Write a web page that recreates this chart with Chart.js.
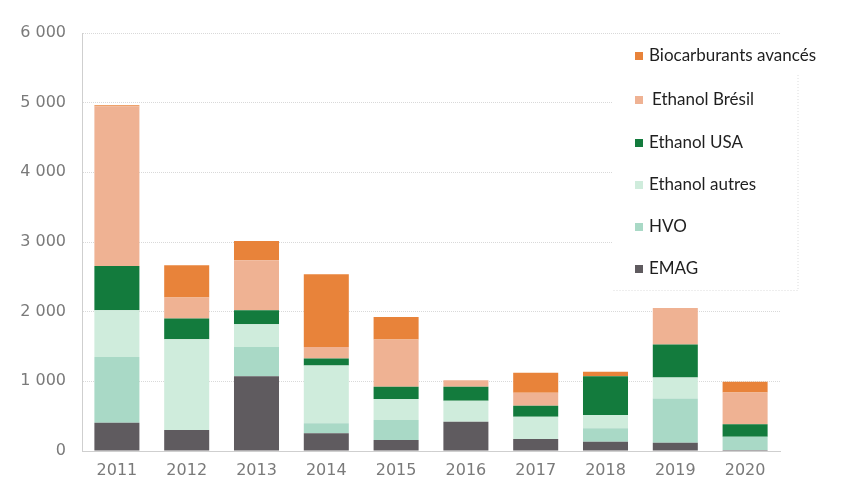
<!DOCTYPE html>
<html>
<head>
<meta charset="utf-8">
<script src="https://cdn.jsdelivr.net/npm/chart.js@4.4.0/dist/chart.umd.min.js"></script>
<style>
  html, body { margin: 0; padding: 0; background: #fff; }
  #chart-container { width: 842px; height: 488px; position: relative; }
</style>
</head>
<body>
<div id="chart-container"><canvas id="chart"></canvas></div>
<script>
const years = ['2011', '2012', '2013', '2014', '2015', '2016', '2017', '2018', '2019', '2020'];
const emag = [405, 300, 1074, 254, 158, 420, 172, 134, 119, 15];
const hvo = [946, 0, 420, 143, 286, 0, 0, 191, 636, 190];
const ethanolAutres = [669, 1305, 325, 831, 301, 301, 320, 191, 301, 0];
const ethanolUSA = [635, 296, 201, 100, 176, 200, 158, 558, 473, 178];
const ethanolBresil = [2292, 301, 717, 166, 679, 96, 186, 0, 525, 458];
const biocarbAvances = [15, 463, 276, 1042, 324, 0, 286, 62, 0, 152];
const yTickLabels = ['0', '1 000', '2 000', '3 000', '4 000', '5 000', '6 000'];

// legend drawn inside the plot, on a white box (top to bottom = reverse stack order)
const boxLegend = {
    id: 'boxLegend',
    afterDatasetsDraw(c) {
        const ctx = c.ctx;
        ctx.save();
        ctx.fillStyle = '#fff';
        ctx.fillRect(612, 40, 186, 250);
        ctx.strokeStyle = '#dcdcdc';
        ctx.setLineDash([1, 2]);
        ctx.beginPath();
        ctx.moveTo(798, 75); ctx.lineTo(798, 290.5); ctx.lineTo(612, 290.5);
        ctx.stroke();
        ctx.setLineDash([]);
        const ds = c.data.datasets.slice().reverse();
        const ys = [56, 100, 143, 185, 227, 269];
        ctx.font = '17px Lato';
        ctx.textBaseline = 'middle';
        ds.forEach((d, i) => {
            ctx.fillStyle = d.backgroundColor;
            ctx.fillRect(635, ys[i] - 4, 8, 8);
            ctx.fillStyle = '#1f1f1f';
            ctx.fillText(d.label, i === 1 ? 652 : 649, ys[i]);
        });
        ctx.restore();
    }
};

const chart = document.getElementById('chart').getContext('2d');
const chartData = {
    labels: years,
    datasets: [
        { label: 'EMAG', data: emag, backgroundColor: '#5f5b5f' },
        { label: 'HVO', data: hvo, backgroundColor: '#a9d9c6' },
        { label: 'Ethanol autres', data: ethanolAutres, backgroundColor: '#cfecdc' },
        { label: 'Ethanol USA', data: ethanolUSA, backgroundColor: '#137b3d' },
        { label: 'Ethanol Brésil', data: ethanolBresil, backgroundColor: '#efb293' },
        { label: 'Biocarburants avancés', data: biocarbAvances, backgroundColor: '#e8833a' }
    ]
};

const chartConfig = {
    type: 'bar',
    data: chartData,
    options: {
        responsive: true,
        maintainAspectRatio: false,
        animation: false,
        layout: { padding: { top: 33, right: 62, left: 0, bottom: 0 } },
        datasets: { bar: { barPercentage: 0.645, categoryPercentage: 1, borderWidth: 0 } },
        plugins: { legend: { display: false }, tooltip: { enabled: false } },
        scales: {
            x: {
                stacked: true,
                grid: { display: false, drawTicks: false },
                border: { color: '#cfcfcf' },
                ticks: { color: '#7a7a7a', font: { family: 'DejaVu Sans', size: 16 }, padding: 10, maxRotation: 0 },
                afterFit: (s) => { s.height = 37; }
            },
            y: {
                stacked: true,
                min: 0,
                max: 6000,
                grid: { color: '#d9d9d9', drawTicks: false },
                border: { color: '#cfcfcf', dash: [1, 1] },
                ticks: {
                    stepSize: 1000,
                    color: '#7a7a7a',
                    font: { family: 'DejaVu Sans', size: 16 },
                    padding: 16,
                    callback: (v) => yTickLabels[v / 1000]
                },
                afterFit: (s) => { s.width = 82; }
            }
        }
    },
    plugins: [boxLegend]
};

const myChart = new Chart(chart, chartConfig);
</script>
</body>
</html>
